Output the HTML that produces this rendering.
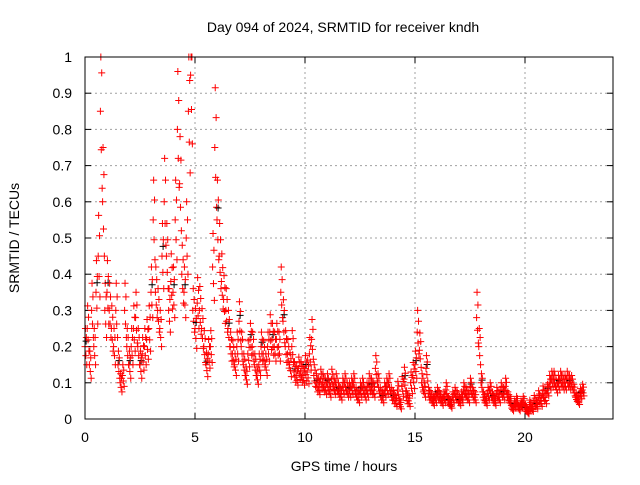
<!DOCTYPE html>
<html><head><meta charset="utf-8"><style>
body{margin:0;background:#fff;width:640px;height:480px;overflow:hidden}
svg{font-family:"Liberation Sans",sans-serif;font-size:14px}
</style></head><body>
<svg id="chart" width="640" height="480" viewBox="0 0 640 480">
<text x="343" y="32" text-anchor="middle">Day 094 of 2024, SRMTID for receiver kndh</text>
<text transform="translate(19,238) rotate(-90)" text-anchor="middle">SRMTID / TECUs</text>
<text x="344" y="471" text-anchor="middle">GPS time / hours</text>
<g id="grid"></g>
<g id="ticks"></g>
<g id="marks"></g>
<rect x="85" y="57" width="528" height="362" fill="none" stroke="#000"/>
</svg>
<script>
const xTicks=[0,5,10,15,20];
const yTicks=[0,0.1,0.2,0.3,0.4,0.5,0.6,0.7,0.8,0.9,1];
const yTickLabels=["0","0.1","0.2","0.3","0.4","0.5","0.6","0.7","0.8","0.9","1"];
const startHour=0, stepHour=0.1;
const values=[0.2,0.25,0.15,0.3,0.2,0.35,0.45,0.85,0.6,0.3,
0.35,0.3,0.25,0.2,0.3,0.15,0.1,0.12,0.3,0.2,
0.15,0.2,0.25,0.28,0.2,0.15,0.18,0.2,0.22,0.25,
0.35,0.55,0.35,0.3,0.25,0.45,0.6,0.45,0.3,0.38,
0.35,0.55,0.8,0.65,0.4,0.35,0.5,0.85,0.95,0.3,
0.25,0.32,0.3,0.25,0.2,0.15,0.18,0.2,0.42,0.75,
0.55,0.45,0.38,0.33,0.3,0.25,0.2,0.18,0.15,0.2,
0.27,0.2,0.15,0.12,0.18,0.22,0.2,0.15,0.12,0.15,
0.2,0.18,0.15,0.2,0.24,0.22,0.2,0.22,0.2,0.35,
0.27,0.2,0.18,0.15,0.2,0.13,0.12,0.14,0.13,0.12,
0.14,0.13,0.18,0.22,0.12,0.1,0.09,0.11,0.1,0.09,
0.1,0.08,0.11,0.09,0.1,0.08,0.07,0.09,0.1,0.08,
0.08,0.09,0.1,0.07,0.06,0.08,0.09,0.07,0.08,0.1,
0.09,0.08,0.14,0.1,0.07,0.06,0.08,0.09,0.1,0.07,
0.06,0.05,0.08,0.04,0.09,0.11,0.06,0.05,0.1,0.12,
0.15,0.24,0.19,0.1,0.08,0.14,0.07,0.06,0.05,0.06,
0.07,0.06,0.05,0.06,0.08,0.05,0.04,0.06,0.07,0.06,
0.05,0.06,0.08,0.07,0.06,0.09,0.07,0.06,0.28,0.2,
0.1,0.06,0.05,0.07,0.08,0.06,0.05,0.07,0.06,0.08,
0.07,0.09,0.06,0.05,0.03,0.04,0.05,0.03,0.04,0.05,
0.03,0.02,0.04,0.03,0.05,0.04,0.06,0.05,0.07,0.06,
0.08,0.1,0.11,0.11,0.09,0.1,0.11,0.1,0.1,0.11,
0.1,0.1,0.08,0.06,0.05,0.07,0.08];
const spread=[0.25,0.25,0.25,0.2,0.2,0.22,0.2,0.2,0.2,0.22,0.25,0.25,0.25,0.25,0.3,0.25,0.25,0.25,0.25,0.25,0.3,0.2,0.2];
const X=h=>85+h*22, Y=v=>419-v*362;
const NS="http://www.w3.org/2000/svg";
const grid=document.getElementById('grid'),ticks=document.getElementById('ticks'),marks=document.getElementById('marks');
function mk(tag,attrs,parent){const e=document.createElementNS(NS,tag);for(const k in attrs)e.setAttribute(k,attrs[k]);parent.appendChild(e);return e;}
xTicks.forEach(t=>{
 if(t>0){const l=mk('line',{x1:X(t),x2:X(t),y1:57,y2:419,stroke:'#a0a0a0','stroke-dasharray':'2,3'},grid);
 
 }
 mk('line',{x1:X(t),x2:X(t),y1:419,y2:413,stroke:'#000'},ticks);
 mk('line',{x1:X(t),x2:X(t),y1:57,y2:63,stroke:'#000'},ticks);
 const tx=mk('text',{x:X(t),y:442,'text-anchor':'middle'},ticks);tx.textContent=t;
 
 
});
yTicks.forEach((t,i)=>{
 if(t>0&&t<1){const l=mk('line',{x1:85,x2:613,y1:Y(t),y2:Y(t),stroke:'#a0a0a0','stroke-dasharray':'2,3'},grid);
 
 }
 mk('line',{x1:85,x2:91,y1:Y(t),y2:Y(t),stroke:'#000'},ticks);
 mk('line',{x1:613,x2:607,y1:Y(t),y2:Y(t),stroke:'#000'},ticks);
 const tx=mk('text',{x:72,y:Y(t)+5,'text-anchor':'end'},ticks);tx.textContent=yTickLabels[i];
 
 
});
function plus(h,v,color){
 const x=X(h),y=Y(Math.max(0,Math.min(1,v)));
 const p=mk('path',{d:`M${x-3.5} ${y}h7M${x} ${y-3.5}v7`,stroke:color,'stroke-width':1,fill:'none'},marks);
 
 
}
values.forEach((v,i)=>{
 const h=startHour+i*stepHour;const s=spread[Math.floor(h)]||0.25;
 if(i%5===0)plus(h+0.05,v*(1+s*0.3),'#000');
 plus(h,v,'#f00');
 plus(h+0.02,v*(1+s),'#f00');
 plus(h+0.04,v*(1-s*0.5),'#f00');
 plus(h+0.06,v*(1+s*0.5),'#f00');
 plus(h+0.08,v*(1-s),'#f00');
});
</script>
</body></html>
